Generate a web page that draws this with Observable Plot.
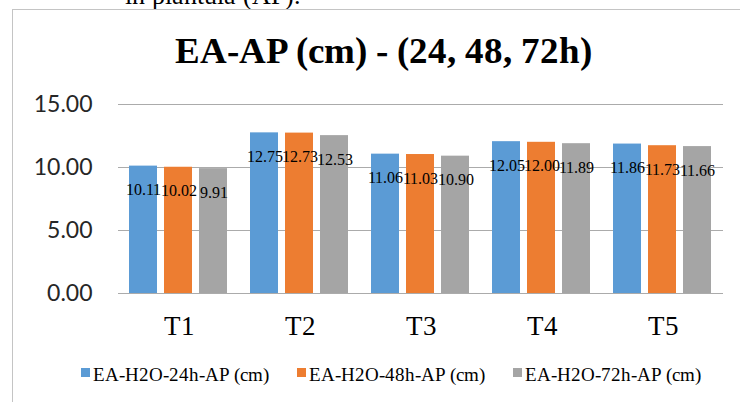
<!DOCTYPE html>
<html>
<head>
<meta charset="utf-8">
<script src="https://cdn.jsdelivr.net/npm/d3@7"></script>
<script src="https://cdn.jsdelivr.net/npm/@observablehq/plot@0.6"></script>
<style>
  @font-face { font-family: "TSerif"; src: local("Liberation Serif Bold"), local("LiberationSerif-Bold"); font-weight: 700; }
  @font-face { font-family: "TSerif"; src: local("Liberation Serif"), local("LiberationSerif"); font-weight: 400; }
  html, body { margin: 0; padding: 0; background: #fff; overflow: hidden; }
  #page { position: relative; width: 740px; height: 402px; overflow: hidden; background: #fff; }
  #frame { position: absolute; left: 12px; top: 9px; width: 800px; height: 420px;
           border-top: 1px solid #c4c4c4; border-left: 1px solid #c4c4c4; }
  .serif { font-family: "TSerif", "Liberation Serif", "DejaVu Serif", serif; }
  #above { position: absolute; left: 125px; top: -17px; font-size: 26px; line-height: 26px; color: #000; white-space: nowrap; }
  #title { position: absolute; left: 83px; width: 600px; top: 32px; text-align: center;
           font-weight: bold; font-size: 37px; line-height: 37px; color: #000; white-space: nowrap; }
  #chart { position: absolute; left: 0; top: 90px; }
  #legend { position: absolute; left: 81px; top: 365px; display: flex; gap: 28px;
            font-size: 19px; line-height: 19px; color: #000; white-space: nowrap; }
  #legend .sw { display: inline-block; width: 9px; height: 9px; margin-right: 3px; vertical-align: 4px; }
</style>
</head>
<body>
<div id="page">
  <div id="above" class="serif">in plantula (AP).</div>
  <div id="frame"></div>
  <div id="title" class="serif">EA-AP (cm) - (24, 48, 72h)</div>
  <div id="chart"></div>
  <div id="legend" class="serif"></div>
</div>
<script>
const categories = ["T1", "T2", "T3", "T4", "T5"];
const series = ["EA-H2O-24h-AP (cm)", "EA-H2O-48h-AP (cm)", "EA-H2O-72h-AP (cm)"];
const values24 = [10.11, 12.75, 11.06, 12.05, 11.86];
const values48 = [10.02, 12.73, 11.03, 12.00, 11.73];
const values72 = [9.91, 12.53, 10.90, 11.89, 11.66];
const colors = ["#5B9BD5", "#ED7D31", "#A5A5A5"];
const yTicks = [0, 5, 10, 15];

const serifFont = "TSerif, 'Liberation Serif', 'DejaVu Serif', serif";
const seriesValues = [values24, values48, values72];
const data = categories.flatMap((c, i) =>
  series.map((s, j) => ({cat: c, series: s, value: seriesValues[j][i]})));

const chart = Plot.plot({
  width: 740,
  height: 260,
  marginLeft: 116,
  marginRight: 16,
  marginTop: 14,
  marginBottom: 57,
  fx: {domain: categories, padding: 0, label: null},
  x: {domain: series, paddingInner: 0.19, paddingOuter: 0.29, axis: null},
  y: {domain: [0, 15], axis: null},
  color: {domain: series, range: colors},
  marks: [
    Plot.ruleY(yTicks, {stroke: "#ababab", strokeWidth: 1}),
    Plot.barY(data, {fx: "cat", x: "series", y: "value", fill: "series"}),
    Plot.text(data, {fx: "cat", x: "series", y: "value", text: d => d.value.toFixed(2),
      dy: 24, fontFamily: serifFont, fontSize: 16, fill: "#000"}),
    Plot.axisY(yTicks, {tickFormat: d => d.toFixed(2), tickSize: 0, tickPadding: 26,
      fontFamily: "Lato", fontSize: 23, fill: "#262626", label: null}),
    Plot.axisFx({anchor: "bottom", tickSize: 0, tickPadding: 22, fontFamily: serifFont, fontSize: 27,
      fill: "#000", label: null})
  ]
});
document.getElementById("chart").appendChild(chart);

const legend = document.getElementById("legend");
series.forEach((s, i) => {
  const item = document.createElement("div");
  const sw = document.createElement("span");
  sw.className = "sw";
  sw.style.background = colors[i];
  item.appendChild(sw);
  item.appendChild(document.createTextNode(s));
  legend.appendChild(item);
});
</script>
</body>
</html>
